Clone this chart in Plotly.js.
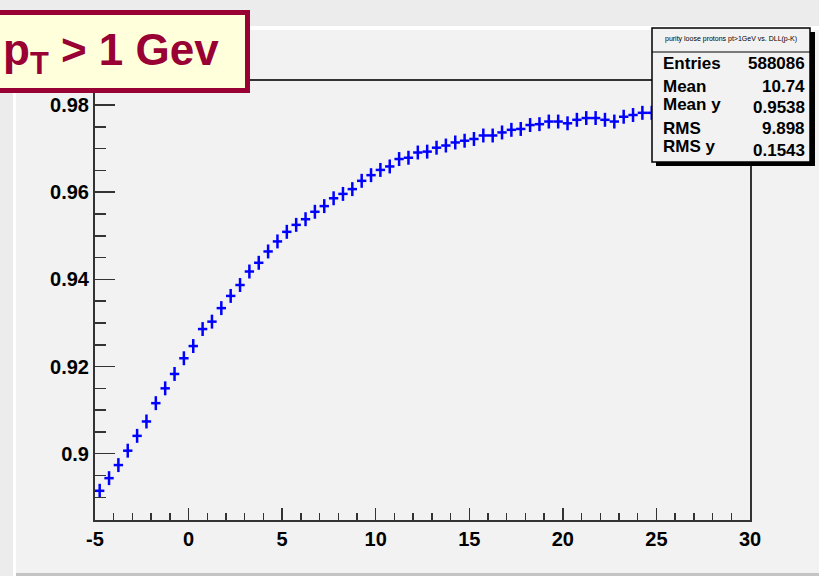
<!DOCTYPE html>
<html>
<head>
<meta charset="utf-8">
<script src="https://cdn.plot.ly/plotly-3.0.1.min.js"></script>
<style>html,body{margin:0;padding:0;background:#f2f2f2;}#chart{width:819px;height:576px;}</style>
</head>
<body>
<div id="chart"></div>
<script>
// ---- data (bin centres of DLL(p-K), purity) ----
const binCenters = [-4.75,-4.25,-3.75,-3.25,-2.75,-2.25,-1.75,-1.25,-0.75,-0.25,
  0.25,0.75,1.25,1.75,2.25,2.75,3.25,3.75,4.25,4.75,
  5.25,5.75,6.25,6.75,7.25,7.75,8.25,8.75,9.25,9.75,
  10.25,10.75,11.25,11.75,12.25,12.75,13.25,13.75,14.25,14.75,
  15.25,15.75,16.25,16.75,17.25,17.75,18.25,18.75,19.25,19.75,
  20.25,20.75,21.25,21.75,22.25,22.75,23.25,23.75,24.25,24.75];
const purity = [0.8915,0.8944,0.8974,0.9007,0.9041,0.9074,0.9116,0.9150,0.9183,0.9219,
  0.9247,0.9286,0.9303,0.9334,0.9362,0.9387,0.9418,0.9438,0.9464,0.9487,
  0.9509,0.9525,0.9538,0.9555,0.9568,0.9586,0.9596,0.9607,0.9626,0.9639,
  0.9651,0.9659,0.9676,0.9679,0.9691,0.9693,0.9702,0.9707,0.9714,0.9718,
  0.9722,0.9730,0.9730,0.9737,0.9743,0.9745,0.9754,0.9756,0.9762,0.9762,
  0.9758,0.9766,0.9770,0.9770,0.9766,0.9762,0.9773,0.9777,0.9782,0.9782];
const binHalfWidth = 0.25;
const purityErr = 0.0016;

const xTickVals = [-5, 0, 5, 10, 15, 20, 25, 30];
const xTickText = ['-5', '0', '5', '10', '15', '20', '25', '30'];
const yTickVals = [0.90, 0.92, 0.94, 0.96, 0.98];
const yTickText = ['0.9', '0.92', '0.94', '0.96', '0.98'];

const statsTitle = 'purity loose protons pt>1GeV vs. DLL(p-K)';
const statsLabels = ['Entries', 'Mean', 'Mean y', 'RMS', 'RMS y'];
const statsValues = ['588086', '10.74', '0.9538', '9.898', '0.1543'];
const boxTitle = 'p<sub>T</sub> > 1 Gev';

// ---- geometry helpers (pixel -> paper) ----
const W = 819, H = 576, L = 95, R = 750, T = 81, B = 520;
const px = v => (v - L) / (R - L);
const py = v => (B - v) / (B - T);

const FONT = 'Liberation Sans, Arial, sans-serif';
const maroon = '#990033';

const trace = {
  x: binCenters, y: purity, type: 'scatter', mode: 'markers',
  marker: {size: 2, color: '#0000ff'},
  error_x: {type: 'constant', value: binHalfWidth, width: 0, thickness: 2.5, color: '#0000ff'},
  error_y: {type: 'constant', value: purityErr, width: 0, thickness: 2.5, color: '#0000ff'},
  hoverinfo: 'skip', cliponaxis: true
};

const shapes = [
  // outer slide background strips
  {type: 'rect', xref: 'paper', yref: 'paper', x0: px(-5), x1: px(W + 5), y0: py(-5), y1: py(26), fillcolor: '#ececec', line: {width: 0}, layer: 'below'},
  {type: 'rect', xref: 'paper', yref: 'paper', x0: px(13), x1: px(W + 5), y0: py(26), y1: py(30), fillcolor: '#ffffff', line: {width: 0}, layer: 'below'},
  {type: 'rect', xref: 'paper', yref: 'paper', x0: px(-5), x1: px(13), y0: py(-5), y1: py(H + 5), fillcolor: '#ececec', line: {width: 0}, layer: 'below'},
  {type: 'rect', xref: 'paper', yref: 'paper', x0: px(13), x1: px(16), y0: py(26), y1: py(H + 5), fillcolor: '#ffffff', line: {width: 0}, layer: 'below'},
  {type: 'rect', xref: 'paper', yref: 'paper', x0: px(16), x1: px(W + 5), y0: py(573), y1: py(H + 5), fillcolor: '#c4c4c4', line: {width: 0}, layer: 'below'},
  // stats box shadow + box
  {type: 'rect', xref: 'paper', yref: 'paper', x0: px(656), x1: px(815), y0: py(32), y1: py(166), fillcolor: '#000000', line: {width: 0}, layer: 'above'},
  {type: 'rect', xref: 'paper', yref: 'paper', x0: px(652), x1: px(810), y0: py(28), y1: py(162), fillcolor: '#f2f2f2', line: {width: 1.5, color: '#000000'}, layer: 'above'},
  {type: 'line', xref: 'paper', yref: 'paper', x0: px(652), x1: px(810), y0: py(52), y1: py(52), line: {width: 1, color: '#000000'}, layer: 'above'},
  // title box
  {type: 'rect', xref: 'paper', yref: 'paper', x0: px(-10), x1: px(247.5), y0: py(12.5), y1: py(90.5), fillcolor: '#ffffdc', line: {width: 5, color: maroon}, layer: 'above'}
];

const annotations = [
  {xref: 'paper', yref: 'paper', x: px(1), y: py(53), xanchor: 'left', yanchor: 'middle', showarrow: false,
   text: '<b>' + boxTitle + '</b>', font: {family: FONT, size: 44, color: maroon}},
  {xref: 'paper', yref: 'paper', x: px(731), y: py(39), xanchor: 'center', yanchor: 'middle', showarrow: false,
   text: statsTitle, font: {family: FONT, size: 7, color: '#000000'}}
];
const labelY = [64, 86, 104.5, 128, 146];
const valueY = [64, 86, 107, 128, 150];
statsLabels.forEach((s, i) => annotations.push({xref: 'paper', yref: 'paper', x: px(661), y: py(labelY[i]), xanchor: 'left', yanchor: 'middle', showarrow: false,
  text: '<b>' + s + '</b>', font: {family: FONT, size: 17, color: '#000000'}}));
statsValues.forEach((s, i) => annotations.push({xref: 'paper', yref: 'paper', x: px(807), y: py(valueY[i]), xanchor: 'right', yanchor: 'middle', showarrow: false,
  text: '<b>' + s + '</b>', font: {family: FONT, size: 17, color: '#000000'}}));

const layout = {
  width: W, height: H,
  margin: {l: L, r: W - R, t: T, b: H - B, pad: 0},
  paper_bgcolor: '#f2f2f2', plot_bgcolor: '#f2f2f2',
  showlegend: false,
  font: {family: FONT, color: '#000000'},
  xaxis: {
    range: [-5, 30], tickvals: xTickVals, ticktext: xTickText,
    ticks: 'inside', ticklen: 12, tickwidth: 1.5, tickcolor: '#333333',
    minor: {dtick: 1, tick0: 0, ticks: 'inside', ticklen: 7, tickwidth: 1.5, tickcolor: '#333333', showgrid: false},
    showline: true, linecolor: '#333333', linewidth: 2, mirror: true,
    showgrid: false, zeroline: false,
    tickfont: {family: FONT, size: 20, weight: 'bold', color: '#000000'}
  },
  yaxis: {
    range: [0.8848, 0.9855], tickvals: yTickVals, ticktext: yTickText,
    ticks: 'inside', ticklen: 20, tickwidth: 1.5, tickcolor: '#333333',
    minor: {dtick: 0.005, tick0: 0.9, ticks: 'inside', ticklen: 11, tickwidth: 1.5, tickcolor: '#333333', showgrid: false},
    showline: true, linecolor: '#333333', linewidth: 2, mirror: true,
    showgrid: false, zeroline: false,
    tickfont: {family: FONT, size: 20, weight: 'bold', color: '#000000'}
  },
  shapes: shapes,
  annotations: annotations
};

Plotly.newPlot('chart', [trace], layout, {displayModeBar: false, staticPlot: true});
</script>
</body>
</html>
